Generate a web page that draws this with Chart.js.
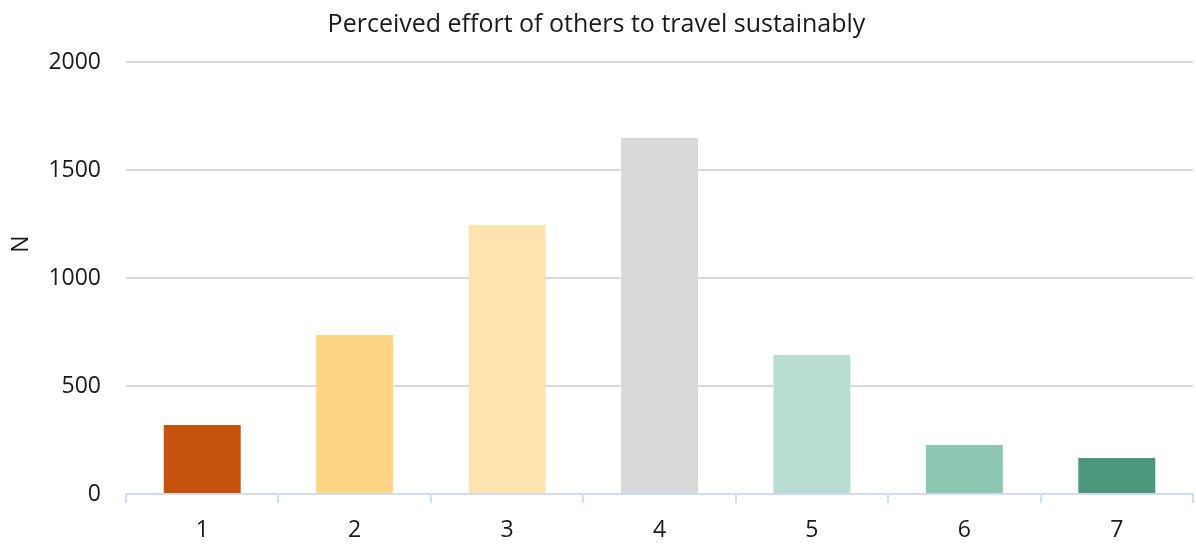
<!DOCTYPE html>
<html>
<head>
<meta charset="utf-8">
<script src="https://cdn.jsdelivr.net/npm/chart.js@4"></script>
<style>
  html, body { margin: 0; padding: 0; background: #ffffff; }
  #wrap { width: 1196px; height: 544px; }
</style>
</head>
<body>
<div id="wrap"><canvas id="chart" width="1196" height="544"></canvas></div>
<script>
// Rating scale (1 = low effort ... 7 = high effort) and respondent counts
const categories = ['1', '2', '3', '4', '5', '6', '7'];
const counts = [320, 736, 1245, 1648, 643, 227, 167];
const barColors = ['#c4510c', '#fdd583', '#fde3ad', '#d9d9d9', '#b8dcd1', '#8dc6b1', '#4a977c'];
const yTicks = [0, 500, 1000, 1500, 2000];

const chartTitle = 'Perceived effort of others to travel sustainably';
const yAxisTitle = 'N';

const FONT = '"Open Sans", "Noto Sans", sans-serif';

// Draws the rotated y-axis title beside the tick labels
const yTitlePlugin = {
  id: 'yTitle',
  afterDraw(chart) {
    const ctx = chart.ctx;
    ctx.save();
    ctx.translate(21, 244);
    ctx.rotate(-Math.PI / 2);
    ctx.font = '23px ' + FONT;
    ctx.fillStyle = '#1a1a1a';
    ctx.textAlign = 'center';
    ctx.textBaseline = 'middle';
    ctx.fillText(yAxisTitle, 0, 0);
    ctx.restore();
  }
};

new Chart(document.getElementById('chart'), {
  type: 'bar',
  data: {
    labels: categories,
    datasets: [{
      data: counts,
      backgroundColor: barColors,
      borderWidth: 0,
      categoryPercentage: 1.0,
      barPercentage: 0.505
    }]
  },
  options: {
    responsive: false,
    animation: false,
    layout: { padding: { left: 0, right: 3, top: 0, bottom: 0 } },
    plugins: {
      legend: { display: false },
      tooltip: { enabled: false },
      title: {
        display: true,
        text: chartTitle,
        color: '#1a1a1a',
        font: { family: FONT, size: 25, weight: 'normal' },
        padding: { top: 10, bottom: 22 }
      }
    },
    scales: {
      x: {
        grid: {
          display: true,
          drawOnChartArea: false,
          drawTicks: true,
          tickLength: 9,
          color: '#cfdcf4',
          lineWidth: 2,
          offset: true
        },
        border: { display: true, color: '#cfdcf4', width: 2 },
        ticks: {
          color: '#1a1a1a',
          font: { family: FONT, size: 23 },
          padding: 14
        },
        afterFit(scale) { scale.height = 50; }
      },
      y: {
        min: 0,
        max: 2000,
        afterBuildTicks(scale) {
          scale.ticks = yTicks.map(v => ({ value: v }));
        },
        grid: {
          color: '#d9d9d9',
          lineWidth: 2,
          drawTicks: false
        },
        border: { display: false },
        ticks: {
          color: '#1a1a1a',
          font: { family: FONT, size: 23 },
          padding: 25,
          callback: (value) => String(value)
        },
        afterFit(scale) { scale.width = 126; }
      }
    }
  },
  plugins: [yTitlePlugin]
});
</script>
</body>
</html>
